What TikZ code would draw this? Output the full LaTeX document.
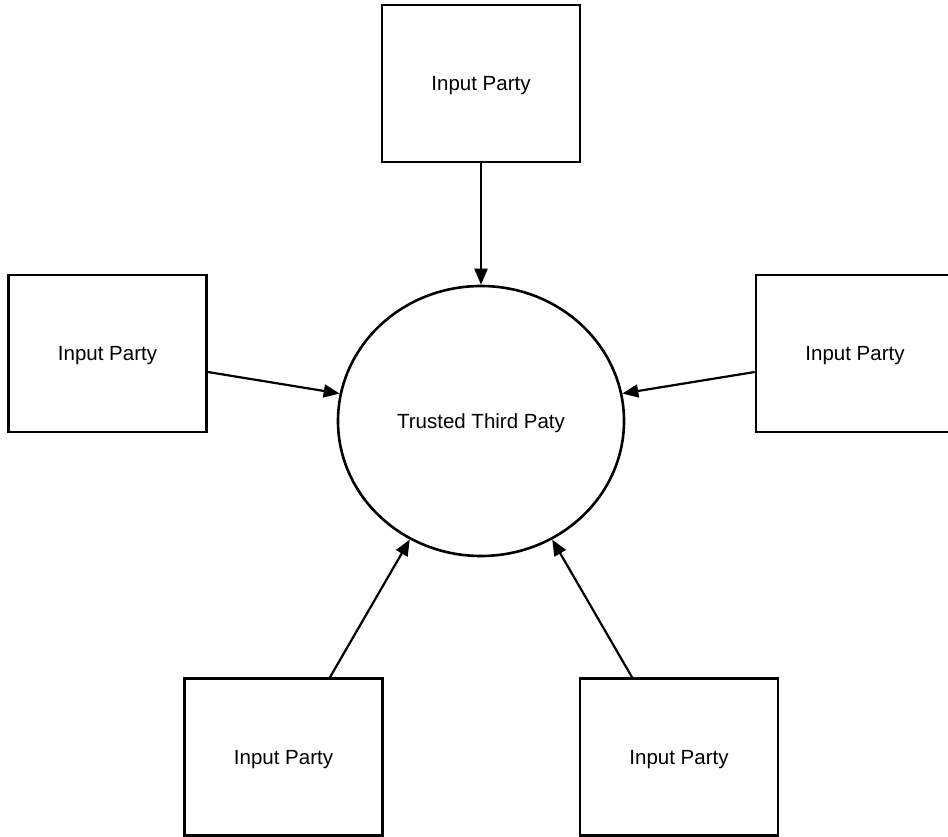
\documentclass[tikz,border=0pt]{standalone}
\usepackage{fontspec}
\setmainfont{Liberation Sans}
\usetikzlibrary{shapes.geometric,arrows.meta,calc}
\begin{document}
\begin{tikzpicture}[x=1pt,y=-1pt,
  label text/.style={font=\fontsize{20.5}{24}\selectfont,text height=19pt,text depth=4.3pt},
  party/.style={draw=black,line width=2.6pt,minimum width=198pt,minimum height=157pt,
    inner sep=0pt,label text},
  ttp/.style={draw=black,ellipse,line width=2.6pt,minimum width=286pt,minimum height=270pt,
    inner sep=0pt,label text},
  link/.style={line width=2.2pt,-{Triangle[length=16pt,width=13pt]}}]
  \useasboundingbox (0,0) rectangle (948,837);
  \begin{scope}
    \clip (0,0) rectangle (948,837);
    % central party
    \node[ttp] (C) at (481,421) {Trusted Third Paty};
    % surrounding input parties
    \node[party] (T)  at (481,83.5)  {Input Party};
    \node[party] (L)  at (107.5,353.5) {Input Party};
    \node[party] (R)  at (855,353.5) {Input Party};
    \node[party] (BL) at (283.5,757) {Input Party};
    \node[party] (BR) at (679,757)   {Input Party};
    % connectors
    \draw[link] (T.south) -- (C.north);
    \draw[link] ($(L.east)+(0,18.5)$) -- (C.169);
    \draw[link] ($(R.west)+(0,18.5)$) -- (C.11);
    \draw[link] ($(BL.north)+(46.5,0)$) -- (C.239);
    \draw[link] ($(BR.north)+(-47,0)$) -- (C.301);
  \end{scope}
\end{tikzpicture}
\end{document}
